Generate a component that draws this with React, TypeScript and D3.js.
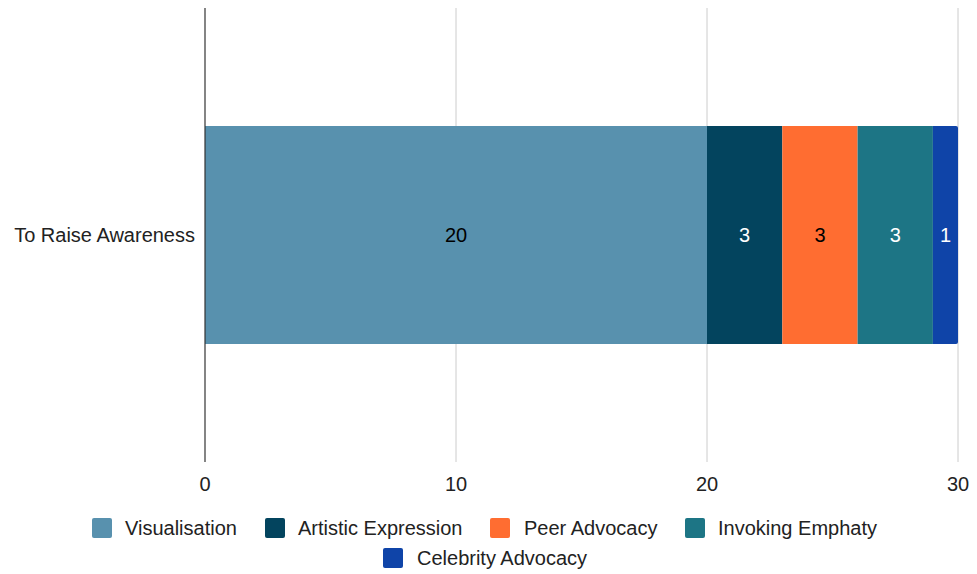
import React from "react";
import * as d3 from "d3";

const categories = ["To Raise Awareness"];
const seriesNames = ["Visualisation", "Artistic Expression", "Peer Advocacy", "Invoking Emphaty", "Celebrity Advocacy"];
const seriesValues = [[20], [3], [3], [3], [1]];
const seriesColors = ["#5891ae", "#03445e", "#ff6d31", "#1d7585", "#0f44a8"];
const labelColors = ["#000000", "#ffffff", "#000000", "#ffffff", "#ffffff"];
const xTicks = [0, 10, 20, 30];

const W = 977, H = 574;
const FONT = "'Liberation Sans', Arial, sans-serif";
const FS = 20;

export default function App() {
  const x = d3.scaleLinear().domain([0, 30]).range([205, 958]);
  const yBand = d3.scaleBand().domain(categories).range([8, 462]).paddingInner(0).paddingOuter(0.541);

  const stacked = d3.stack<number[]>().keys(seriesNames.map((_, i) => String(i)))
    .value((d, k) => d[+k])(categories.map((_, ci) => seriesValues.map(s => s[ci])));

  const legendItems = [
    { i: 0, sx: 92, tx: 125, y: 528 },
    { i: 1, sx: 265, tx: 298, y: 528 },
    { i: 2, sx: 490, tx: 524, y: 528 },
    { i: 3, sx: 685, tx: 718, y: 528 },
    { i: 4, sx: 383, tx: 417, y: 558 },
  ];

  return (
    <svg width={W} height={H} style={{ position: "absolute", left: 0, top: 0, background: "#fff" }} fontFamily={FONT}>
      {xTicks.slice(1).map(t => (
        <line key={t} x1={x(t)} x2={x(t)} y1={8} y2={462} stroke="#cccccc" strokeWidth={1} />
      ))}
      {stacked.map((layer, si) =>
        layer.map((d, ci) => {
          const y0 = yBand(categories[ci])!;
          const h = yBand.bandwidth();
          const x0 = x(d[0]), x1 = x(d[1]);
          const last = si === stacked.length - 1;
          const r = 2;
          const path = last
            ? `M${x0},${y0} H${x1 - r} Q${x1},${y0} ${x1},${y0 + r} V${y0 + h - r} Q${x1},${y0 + h} ${x1 - r},${y0 + h} H${x0} Z`
            : `M${x0},${y0} H${x1} V${y0 + h} H${x0} Z`;
          return (
            <g key={`${si}-${ci}`}>
              <path d={path} fill={seriesColors[si]} />
              <text x={(x0 + x1) / 2} y={y0 + h / 2} dy="0.35em" textAnchor="middle" fontSize={FS} fill={labelColors[si]}>
                {seriesValues[si][ci]}
              </text>
            </g>
          );
        })
      )}
      <line x1={x(0)} x2={x(0)} y1={8} y2={462} stroke="#333333" strokeWidth={1.2} />
      {categories.map(c => (
        <text key={c} x={195} y={yBand(c)! + yBand.bandwidth() / 2} dy="0.35em" textAnchor="end" fontSize={FS} fill="#222">
          {c}
        </text>
      ))}
      {xTicks.map(t => (
        <text key={t} x={x(t)} y={491} textAnchor="middle" fontSize={FS} fill="#222">{t}</text>
      ))}
      {legendItems.map(l => (
        <g key={l.i}>
          <rect x={l.sx} y={l.y - 10} width={20} height={20} rx={2} fill={seriesColors[l.i]} />
          <text x={l.tx} y={l.y} dy="0.35em" fontSize={FS} fill="#222">{seriesNames[l.i]}</text>
        </g>
      ))}
    </svg>
  );
}
